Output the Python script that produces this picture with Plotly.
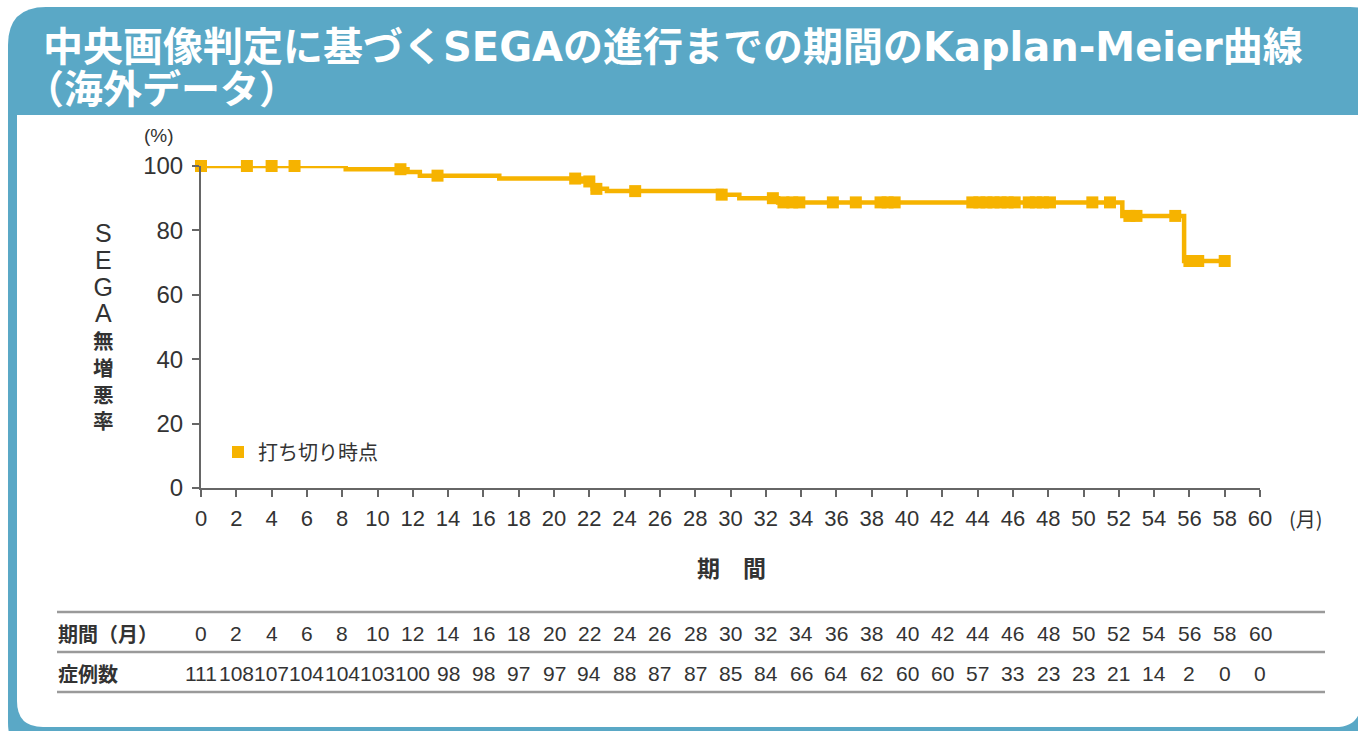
import plotly.graph_objects as go

# ---------------- data ----------------
step_times = [0, 8.2, 11.7, 12.4, 16.9, 21.6, 22.2, 23.0, 29.5, 30.5, 32.7, 52.2, 55.7, 58.0]
step_surv  = [100, 99.0, 98.1, 97.0, 96.1, 95.2, 92.9, 92.2, 91.1, 90.0, 88.7, 84.5, 70.5, 70.5]

censor_times = [0, 2.6, 4.0, 5.3, 11.3, 13.4, 21.2, 22.0, 22.4, 24.6, 29.5, 32.4,
                33.0, 33.5, 33.9, 35.8, 37.1, 38.5, 38.9, 39.3,
                43.7, 44.1, 44.5, 44.9, 45.3, 45.7, 46.1, 46.9, 47.3, 47.7, 48.1,
                50.5, 51.5, 52.6, 53.0, 55.2, 56.0, 56.5, 58.0]

x_ticks = list(range(0, 61, 2))
y_ticks = [0, 20, 40, 60, 80, 100]
table_months = list(range(0, 61, 2))
table_counts = [111, 108, 107, 104, 104, 103, 100, 98, 98, 97, 97, 94, 88, 87, 87, 85,
                84, 66, 64, 62, 60, 60, 57, 33, 23, 23, 21, 14, 2, 0, 0]

title_line1 = "中央画像判定に基づくSEGAの進行までの期間のKaplan-Meier曲線"
title_line2 = "（海外データ）"
y_title_chars = list("SEGA無増悪率")
legend_label = "打ち切り時点"

# ---------------- helpers ----------------
W, H = 1358, 731
L, R, T, B = 201, 1260, 166, 488
ORANGE = "#F6B300"
BLUE = "#5AA8C6"
TXT = "#333333"
CJK = "Noto Sans CJK JP, sans-serif"
TITLE = "DejaVu Sans, Noto Sans CJK JP, sans-serif"
NUM = "Liberation Sans, Arial, sans-serif"
NARROW = "Liberation Sans Narrow, Liberation Sans, sans-serif"


def xp(px):
    return (px - L) / (R - L)


def yp(py):
    return (B - py) / (B - T)


def surv_at(t):
    s = step_surv[0]
    for tt, ss in zip(step_times, step_surv):
        if tt <= t:
            s = ss
    return s


censor_vals = [surv_at(t) for t in censor_times]

fig = go.Figure()
fig.add_trace(go.Scatter(x=step_times, y=step_surv, mode="lines",
                         line=dict(color=ORANGE, width=4.5, shape="hv"),
                         showlegend=False, hoverinfo="skip", cliponaxis=False))
fig.add_trace(go.Scatter(x=censor_times, y=censor_vals, mode="markers",
                         marker=dict(symbol="square", size=12, color=ORANGE),
                         name=legend_label, showlegend=True, cliponaxis=False))


def rrect(x0, y0, x1, y1, r_tl=0, r_tr=0, r_br=0, r_bl=0):
    def P(a, b):
        return f"{xp(a):.5f},{yp(b):.5f}"
    d = f"M {P(x0, y0 + r_tl)} Q {P(x0, y0)} {P(x0 + r_tl, y0)} "
    d += f"L {P(x1 - r_tr, y0)} Q {P(x1, y0)} {P(x1, y0 + r_tr)} "
    d += f"L {P(x1, y1 - r_br)} Q {P(x1, y1)} {P(x1 - r_br, y1)} "
    d += f"L {P(x0 + r_bl, y1)} Q {P(x0, y1)} {P(x0, y1 - r_bl)} Z"
    return d


shapes = [
    dict(type="path", xref="paper", yref="paper", path=rrect(8, 7, 1380, 760, 38, 30, 30, 38),
         fillcolor=BLUE, line=dict(width=0), layer="below"),
    dict(type="path", xref="paper", yref="paper", path=rrect(17, 115, 1361, 727, 0, 0, 26, 26),
         fillcolor="white", line=dict(width=0), layer="below"),
]
for py in [612, 652, 692]:
    shapes.append(dict(type="line", xref="paper", yref="paper", x0=xp(57), x1=xp(1325),
                       y0=yp(py), y1=yp(py), line=dict(color="#9a9a9a", width=2.5)))

ann = []
ann.append(dict(text=f"<b>{title_line1}</b>", x=xp(41), y=yp(47), xref="paper", yref="paper",
                xanchor="left", yanchor="middle", showarrow=False,
                font=dict(family=TITLE, size=40, color="white")))
ann.append(dict(text=f"<b>{title_line2}</b>", x=xp(23), y=yp(89), xref="paper", yref="paper",
                xanchor="left", yanchor="middle", showarrow=False,
                font=dict(family=TITLE, size=39, color="white")))
ann.append(dict(text="(%)", x=xp(159), y=yp(136), xref="paper", yref="paper",
                xanchor="center", yanchor="middle", showarrow=False,
                font=dict(family=NUM, size=19, color=TXT)))
ann.append(dict(text="(月)", x=xp(1306), y=yp(518), xref="paper", yref="paper",
                xanchor="center", yanchor="middle", showarrow=False,
                font=dict(family=CJK, size=20, color=TXT)))
ann.append(dict(text="<b>期　間</b>", x=xp(731), y=yp(567), xref="paper", yref="paper",
                xanchor="center", yanchor="middle", showarrow=False,
                font=dict(family=CJK, size=23, color=TXT)))

# vertical y-axis title as one stacked text
parts = []
for ch in y_title_chars:
    if ord(ch) > 255:
        parts.append(f"<b>{ch}</b>")
    else:
        parts.append(f"<span style='font-size:25px;font-family:Liberation Sans'>{ch}</span>")
ann.append(dict(text="<br>".join(parts), x=xp(103), y=yp(327), xref="paper", yref="paper",
                xanchor="center", yanchor="middle", align="center", showarrow=False,
                font=dict(family=CJK, size=20.6, color=TXT)))

# table
ann.append(dict(text="<b>期間（月）</b>", x=xp(56), y=yp(633), xref="paper", yref="paper",
                xanchor="left", yanchor="middle", showarrow=False,
                font=dict(family=CJK, size=20, color=TXT)))
ann.append(dict(text="<b>症例数</b>", x=xp(56), y=yp(673), xref="paper", yref="paper",
                xanchor="left", yanchor="middle", showarrow=False,
                font=dict(family=CJK, size=20, color=TXT)))
for m, c in zip(table_months, table_counts):
    ann.append(dict(text=str(m), x=m, y=yp(633), xref="x", yref="paper",
                    xanchor="center", yanchor="middle", showarrow=False,
                    font=dict(family=NARROW, size=21, color=TXT)))
    ann.append(dict(text=str(c), x=m, y=yp(673), xref="x", yref="paper",
                    xanchor="center", yanchor="middle", showarrow=False,
                    font=dict(family=NARROW, size=21, color=TXT)))

fig.update_layout(
    width=W, height=H,
    margin=dict(l=L, r=W - R, t=T, b=H - B, pad=0),
    paper_bgcolor="white", plot_bgcolor="rgba(0,0,0,0)",
    shapes=shapes, annotations=ann,
    legend=dict(x=xp(218), y=yp(452), xanchor="left", yanchor="middle",
                bgcolor="rgba(0,0,0,0)", font=dict(family=CJK, size=20, color=TXT),
                itemsizing="constant"),
    xaxis=dict(range=[0, 60], tickvals=x_ticks, ticktext=[str(v) for v in x_ticks],
               showgrid=False, zeroline=False, showline=True, linecolor="#666", linewidth=2,
               ticks="outside", ticklen=7, tickwidth=1.5, tickcolor="#666",
               ticklabelstandoff=3,
               tickfont=dict(family=NUM, size=22, color=TXT), fixedrange=True),
    yaxis=dict(range=[0, 100], tickvals=y_ticks, showgrid=False, zeroline=False,
               showline=True, linecolor="#666", linewidth=2,
               ticks="outside", ticklen=7, tickwidth=1.5, tickcolor="#666",
               ticklabelstandoff=4,
               tickfont=dict(family=NUM, size=24, color=TXT), fixedrange=True),
)

fig.write_html("out.html", config={"displayModeBar": False},
               post_script="document.body.style.margin='0';document.body.style.overflow='hidden';")
